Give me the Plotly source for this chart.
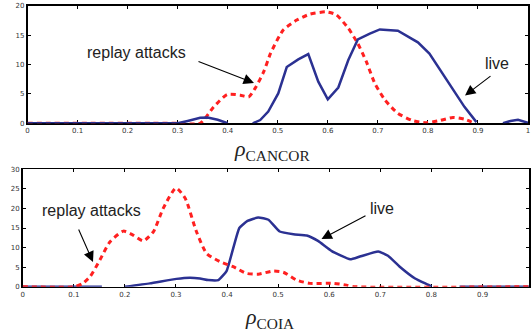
import plotly.graph_objects as go

W, H = 531, 336

# ---------------- data ----------------
# top panel (rho_CANCOR)
top_live_x = [0, 0.30, 0.32, 0.345, 0.36, 0.38, 0.40, None, 0.45, 0.465, 0.481, 0.501, 0.518, 0.541,
              0.561, 0.581, 0.600, 0.621, 0.641, 0.660, 0.684, 0.704, 0.740, 0.780, 0.803, 0.827,
              0.850, 0.873, 0.897, None, 0.95, 0.965, 0.98, 1.0]
top_live_y = [0, 0, 0.4, 0.95, 1.0, 0.6, 0, None, 0, 0.55, 2.0, 5.1, 9.6, 10.9,
              11.8, 7.1, 4.1, 6.1, 10.8, 14.3, 15.3, 16.0, 15.8, 13.8, 11.9, 8.8,
              5.7, 2.8, 0.2, None, 0, 0.4, 0.6, 0.1]
top_replay_x = [0, 0.25, 0.30, 0.345, 0.372, 0.399, 0.425, 0.442, 0.455, 0.472, 0.486, 0.511, 0.538,
                0.564, 0.597, 0.617, 0.641, 0.660, 0.677, 0.694, 0.714, 0.740, 0.770, 0.797, 0.823,
                0.850, 0.873, 0.893]
top_replay_y = [0, 0, 0, 0, 2.8, 4.9, 4.8, 4.5, 6.0, 8.8, 12.0, 15.9, 17.6,
                18.6, 19.0, 18.5, 16.2, 13.6, 10.5, 6.8, 4.0, 1.7, 0.45, 0.1, 0.45,
                1.0, 0.7, 0]

# bottom panel (rho_COIA)
bot_live_x = [0, 0.155, None, 0.2, 0.249, 0.301, 0.327, 0.347, 0.363, 0.383, 0.399, 0.412, 0.424,
              0.44, 0.461, 0.481, 0.503, 0.530, 0.556, 0.578, 0.605, 0.641, 0.660, 0.696, 0.715,
              0.738, 0.768, 0.797, 0.80, None, 0.855, 1.0]
bot_live_y = [0, 0, None, 0, 0.85, 2.0, 2.3, 2.1, 1.7, 1.7, 4.0, 9.8, 15.0,
              16.8, 17.7, 17.1, 14.1, 13.4, 13.1, 11.7, 9.1, 7.0, 7.7, 9.0, 7.9,
              5.1, 2.1, 0.26, 0, None, 0, 0]
bot_replay_x = [0, 0.102, 0.117, 0.132, 0.151, 0.171, 0.197, 0.216, 0.236, 0.256, 0.275, 0.300,
                0.318, 0.340, 0.360, 0.386, 0.412, 0.438, 0.461, 0.490, 0.510, 0.536, 0.562,
                0.608, 0.634, 0.65, 1.0]
bot_replay_y = [0, 0, 0.8, 2.6, 6.8, 11.5, 14.2, 13.2, 11.7, 14.1, 20.0, 25.2,
                22.6, 14.1, 8.5, 6.4, 5.1, 3.4, 3.2, 4.0, 3.7, 1.7, 0.85,
                0.85, 0.4, 0, 0]

x_ticks = [0, 0.1, 0.2, 0.3, 0.4, 0.5, 0.6, 0.7, 0.8, 0.9, 1.0]
x_tick_labels = ["0", "0.1", "0.2", "0.3", "0.4", "0.5", "0.6", "0.7", "0.8", "0.9", "1"]
top_y_ticks = [0, 5, 10, 15, 20]
bot_y_ticks = [0, 5, 10, 15, 20, 25, 30]

BLUE = "#2B3192"
RED = "#FF2020"

def px(x):
    return x / W

def py(y):
    return 1 - y / H

fig = go.Figure()
fig.add_trace(go.Scatter(x=top_replay_x, y=top_replay_y, mode="lines", xaxis="x", yaxis="y",
                         line=dict(color=RED, width=3, dash="5px,4px", shape="spline", smoothing=0.6),
                         connectgaps=False, showlegend=False))
fig.add_trace(go.Scatter(x=top_live_x, y=top_live_y, mode="lines", xaxis="x", yaxis="y",
                         line=dict(color=BLUE, width=2.5), connectgaps=False, showlegend=False))
fig.add_trace(go.Scatter(x=bot_live_x, y=bot_live_y, mode="lines", xaxis="x2", yaxis="y2",
                         line=dict(color=BLUE, width=2.5, shape="spline", smoothing=0.4),
                         connectgaps=False, showlegend=False))
fig.add_trace(go.Scatter(x=bot_replay_x, y=bot_replay_y, mode="lines", xaxis="x2", yaxis="y2",
                         line=dict(color=RED, width=3, dash="5px,4px", shape="spline", smoothing=0.6),
                         connectgaps=False, showlegend=False))

tickfont = dict(family="DejaVu Sans", size=7, color="#333333")
common_x = dict(tickmode="array", tickvals=x_ticks, ticktext=x_tick_labels, ticks="inside",
                ticklen=3, tickwidth=1, tickcolor="black", showline=True, linecolor="black",
                linewidth=1.6, mirror="allticks", showgrid=False, zeroline=False,
                tickfont=tickfont, layer="below traces", automargin=False)
common_y = dict(ticks="inside", ticklen=3, tickwidth=1, tickcolor="black", showline=True,
                linecolor="black", linewidth=1.6, mirror="allticks", showgrid=False,
                zeroline=False, tickfont=tickfont, layer="below traces", automargin=False)

fig.update_layout(
    width=W, height=H, autosize=False,
    margin=dict(l=0, r=0, t=0, b=0, pad=0),
    paper_bgcolor="white", plot_bgcolor="white",
    hovermode=False,
    xaxis=dict(domain=[px(27.5), px(528)], range=[0, 1], anchor="y", **common_x),
    yaxis=dict(domain=[py(123.3), py(6)], range=[0, 20], anchor="x",
               tickmode="array", tickvals=top_y_ticks, **common_y),
    xaxis2=dict(domain=[px(22.7), px(529)], range=[0, 0.991], anchor="y2", **common_x),
    yaxis2=dict(domain=[py(286.7), py(169.3)], range=[0, 30], anchor="x2",
                tickmode="array", tickvals=bot_y_ticks, **common_y),
)

label_font = dict(family="Liberation Sans", size=16, color="#222222")
title_font = dict(family="Liberation Serif", size=22, color="#222222")

annots = [
    dict(text="replay attacks", x=px(136), y=py(52), font=label_font),
    dict(text="live", x=px(497), y=py(63), font=label_font),
    dict(text="replay attacks", x=px(91), y=py(210), font=label_font),
    dict(text="live", x=px(382), y=py(208), font=label_font),
    dict(text="<i>ρ</i><sub>CANCOR</sub>", x=px(272), y=py(150), font=title_font),
    dict(text="<i>ρ</i><sub>COIA</sub>", x=px(269), y=py(318), font=title_font),
]
for a in annots:
    fig.add_annotation(xref="paper", yref="paper", xanchor="center", yanchor="middle",
                       showarrow=False, **a)

arrows = [
    (254, 83, 197, 61),
    (465, 95.5, 492, 75),
    (93, 262, 78, 228),
    (321.5, 239, 367, 215),
]
for tx, ty, sx, sy in arrows:
    fig.add_annotation(xref="paper", yref="paper", x=px(tx), y=py(ty), text="",
                       showarrow=True, ax=sx - tx, ay=sy - ty, arrowhead=2,
                       arrowsize=1.9, arrowwidth=1.1, arrowcolor="black",
                       standoff=0, startstandoff=0)

fig.write_html("out.html", config={"displayModeBar": False, "staticPlot": True},
               post_script="document.body.style.margin='0';document.body.style.overflow='hidden';")
